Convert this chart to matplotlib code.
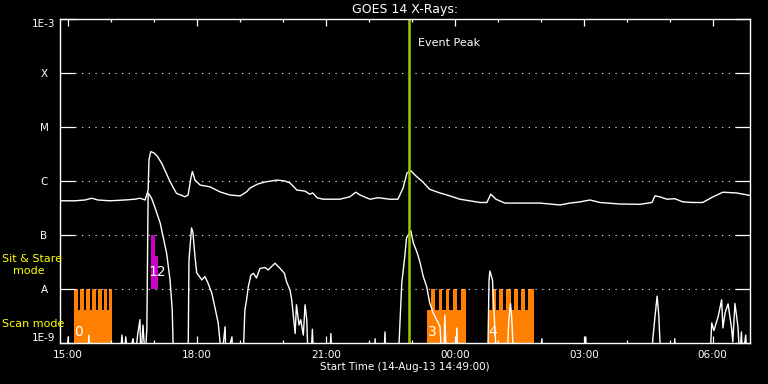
import matplotlib
matplotlib.use("Agg")
import matplotlib.pyplot as plt
import matplotlib.dates as mdates
import matplotlib.ticker as mticker
import pandas as pd

# start of the plot window and event peak (hours after start)
start = pd.Timestamp("2013-08-14 14:49:00")
span_hours = 16.05
peak_hours = 8.12

# GOES long channel (1-8 A), hours after start / flux W m^-2
long_t = [0.00, 0.35, 0.58, 0.74, 0.88, 1.16, 1.51, 1.74, 1.86, 1.98, 2.05, 2.07, 2.11, 2.19,
          2.26, 2.37, 2.47, 2.56, 2.71, 2.81, 2.91, 2.98, 3.05, 3.08, 3.14, 3.26, 3.49, 3.72,
          3.95, 4.19, 4.34, 4.42, 4.60, 4.77, 5.05, 5.23, 5.35, 5.51, 5.70, 5.81, 5.88, 5.98,
          6.12, 6.51, 6.74, 6.88, 6.98, 7.21, 7.40, 7.67, 7.86, 7.98, 8.07, 8.16, 8.28, 8.44,
          8.60, 8.84, 9.07, 9.30, 9.53, 9.77, 9.93, 10.02, 10.14, 10.35, 10.70, 11.16, 11.63,
          11.86, 12.09, 12.33, 12.56, 13.02, 13.49, 13.77, 13.84, 13.95, 14.12, 14.30, 14.49,
          14.72, 14.95, 15.19, 15.42, 15.74, 16.05]
long_flux = [4.3e-7, 4.3e-7, 4.45e-7, 4.8e-7, 4.45e-7, 4.3e-7, 4.45e-7, 4.6e-7, 4.8e-7, 4.45e-7,
             6.8e-7, 2.45e-6, 3.5e-6, 3.3e-6, 2.9e-6, 2.1e-6, 1.4e-6, 9.7e-7, 5.9e-7, 5.5e-7,
             5.1e-7, 5.5e-7, 1.2e-6, 1.5e-6, 1.04e-6, 8.4e-7, 7.8e-7, 6.3e-7, 5.5e-7, 5.3e-7,
             6.3e-7, 7.4e-7, 8.8e-7, 9.6e-7, 1.04e-6, 1.0e-6, 9.2e-7, 6.8e-7, 6.5e-7, 5.7e-7,
             6.0e-7, 4.9e-7, 4.6e-7, 4.6e-7, 5.1e-7, 6.2e-7, 5.5e-7, 4.6e-7, 4.9e-7, 4.6e-7,
             4.6e-7, 7.4e-7, 1.4e-6, 1.55e-6, 1.24e-6, 9.6e-7, 7.0e-7, 6.0e-7, 5.3e-7, 4.6e-7,
             4.3e-7, 4.0e-7, 4.0e-7, 5.7e-7, 4.6e-7, 3.9e-7, 3.9e-7, 3.9e-7, 3.6e-7, 3.9e-7,
             4.1e-7, 4.45e-7, 4.0e-7, 3.75e-7, 3.7e-7, 4.0e-7, 5.3e-7, 5.1e-7, 4.6e-7, 4.7e-7,
             4.1e-7, 4.0e-7, 4.0e-7, 5.1e-7, 6.2e-7, 6.0e-7, 5.4e-7]

# GOES short channel (0.5-4 A); 5e-10 means below the plot floor
short_t = [0.00, 0.16, 0.19, 0.21, 0.65, 0.67, 0.70, 1.40, 1.44, 1.49, 1.53, 1.58, 1.70, 1.74,
           1.81, 1.86, 1.88, 1.93, 1.98, 2.02, 2.05, 2.13, 2.21, 2.33, 2.40, 2.48, 2.56, 2.61,
           2.64, 2.98, 3.00, 3.06, 3.09, 3.14, 3.18, 3.30, 3.37, 3.44, 3.53, 3.60, 3.68, 3.76,
           3.84, 3.86, 4.00, 4.02, 4.26, 4.30, 4.34, 4.38, 4.44, 4.50, 4.57, 4.65, 4.77, 4.84,
           5.00, 5.12, 5.22, 5.27, 5.35, 5.39, 5.47, 5.50, 5.56, 5.60, 5.66, 5.70, 5.74, 5.77,
           5.84, 5.87, 5.90, 6.28, 6.30, 6.33, 7.31, 7.33, 7.35, 7.53, 7.56, 7.58, 7.87, 7.95,
           8.02, 8.06, 8.16, 8.22, 8.30, 8.37, 8.45, 8.53, 8.60, 8.68, 8.76, 8.84, 8.88, 8.93,
           8.95, 8.99, 9.21, 9.23, 9.26, 9.95, 9.98, 10.00, 10.06, 10.12, 10.16, 10.40, 10.44,
           10.48, 10.51, 10.55, 11.19, 11.21, 11.23, 12.21, 12.23, 12.25, 13.76, 13.79, 13.84,
           13.89, 13.93, 13.95, 13.98, 14.28, 14.30, 14.32, 15.12, 15.16, 15.21, 15.31, 15.39,
           15.42, 15.47, 15.54, 15.62, 15.65, 15.70, 15.77, 15.81, 15.85, 15.88, 15.95, 15.98,
           16.05]
short_flux = [5e-10, 5e-10, 1.3e-9, 5e-10, 5e-10, 1.4e-9, 5e-10, 5e-10, 1.4e-9, 5e-10, 1.3e-9,
              5e-10, 1.2e-9, 5e-10, 1.5e-9, 2.7e-9, 5e-10, 2.15e-9, 5e-10, 1.8e-9, 6.0e-7,
              4.8e-7, 3.2e-7, 1.67e-7, 9.2e-8, 4.6e-8, 1.47e-8, 4.1e-9, 5e-10, 5e-10, 3.4e-8,
              1.35e-7, 1.14e-7, 4.0e-8, 2.0e-8, 1.47e-8, 1.7e-8, 1.3e-8, 8.4e-9, 4.7e-9,
              2.35e-9, 5e-10, 2.0e-9, 5e-10, 1.3e-9, 5e-10, 5e-10, 4.1e-9, 6.3e-9, 1.1e-8,
              1.8e-8, 1.95e-8, 1.6e-8, 2.4e-8, 2.5e-8, 2.25e-8, 3.0e-8, 2.4e-8, 1.95e-8,
              1.36e-8, 9.6e-9, 6.3e-9, 1.5e-9, 5.1e-9, 2.15e-9, 2.7e-9, 1.4e-9, 5.1e-9, 2.7e-9,
              5e-10, 5e-10, 1.8e-9, 5e-10, 5e-10, 1.5e-9, 5e-10, 5e-10, 1.2e-9, 5e-10, 5e-10,
              1.6e-9, 5e-10, 5e-10, 1.3e-8, 4.0e-8, 8.8e-8, 1.2e-7, 7.1e-8, 4.9e-8, 3.2e-8,
              1.7e-8, 1.1e-8, 5.5e-9, 3.6e-9, 2.7e-9, 2.0e-9, 5e-10, 5e-10, 3.3e-9, 5e-10,
              5e-10, 1.9e-9, 5e-10, 5e-10, 1.47e-8, 2.15e-8, 1.47e-8, 1.5e-9, 5e-10, 5e-10,
              2.7e-9, 5.4e-9, 2.7e-9, 5e-10, 5e-10, 1.2e-9, 5e-10, 5e-10, 1.3e-9, 5e-10, 5e-10,
              1.2e-9, 3.1e-9, 7.4e-9, 3.1e-9, 1.3e-9, 5e-10, 5e-10, 1.2e-9, 5e-10, 5e-10,
              2.35e-9, 1.7e-9, 3.1e-9, 6.3e-9, 1.9e-9, 3.6e-9, 5.3e-9, 1.9e-9, 1.05e-9, 5.4e-9,
              2.0e-9, 5e-10, 1.6e-9, 5e-10, 1.4e-9, 5e-10, 5e-10]

# IRIS raster blocks: scan-mode base spans and the comb teeth (hours after start)
scan_labels = ["0", "3", "4"]
scan_base = [(0.33, 1.20), (8.54, 9.44), (9.96, 11.02)]
scan_teeth = [
    [(0.33, 0.42), (0.47, 0.56), (0.61, 0.70), (0.74, 0.84), (0.88, 0.98), (1.02, 1.10), (1.13, 1.20)],
    [(8.63, 8.72), (8.81, 8.89), (8.98, 9.06), (9.15, 9.23), (9.32, 9.44)],
    [(10.05, 10.14), (10.21, 10.31), (10.38, 10.48), (10.55, 10.65), (10.72, 10.82), (10.89, 11.02)],
]
scan_base_level = 4.1e-9
scan_top_level = 1e-8
# sit & stare blocks (start, end, top flux)
stare_labels = ["1", "2"]
stare_blocks = [(2.12, 2.22, 1e-7), (2.22, 2.28, 4.1e-8)]

levels = [1e-3, 1e-4, 1e-5, 1e-6, 1e-7, 1e-8, 1e-9]
level_names = ["1E-3", "X", "M", "C", "B", "A", "1E-9"]

W, H = 768, 384
fig = plt.figure(figsize=(W / 100, H / 100), dpi=100, facecolor="black")
ax = fig.add_axes([60 / W, 41 / H, 690 / W, 324 / H], facecolor="black")


def when(h):
    return start + pd.to_timedelta(h, unit="h")


def xnum(h):
    return mdates.date2num(when(h))


# raster blocks
for (b0, b1), teeth in zip(scan_base, scan_teeth):
    ax.bar(xnum(b0), scan_base_level - 1e-9, width=(b1 - b0) / 24, bottom=1e-9,
           align="edge", color="#ff8000", linewidth=0)
    for t0, t1 in teeth:
        ax.bar(xnum(t0), scan_top_level - 1e-9, width=(t1 - t0) / 24, bottom=1e-9,
               align="edge", color="#ff8000", linewidth=0)
for s0, s1, top in stare_blocks:
    ax.bar(xnum(s0), top - 1e-8, width=(s1 - s0) / 24, bottom=1e-8,
           align="edge", color="#cc00cc", linewidth=0)

# dotted level lines
for lv in levels[1:-1]:
    ax.axhline(lv, xmin=15 / 690, xmax=1 - 14 / 690, color="white", lw=0.8,
               linestyle=(0, (1, 5)))

ax.plot(when(long_t), long_flux, color="white", lw=1.0)
ax.plot(when(short_t), short_flux, color="white", lw=1.0)

ax.axvline(when(peak_hours), color="#99cc00", lw=1.8)
ax.annotate("Event Peak", xy=(when(peak_hours), 1), xycoords=("data", "axes fraction"),
            xytext=(9, -19), textcoords="offset pixels", ha="left", va="top",
            color="white", fontsize=8)

# block numbers
for lab, (b0, b1) in zip(scan_labels, scan_base):
    ax.text(when(b0 + 0.11), 1.6e-9, lab, color="white", fontsize=10,
            ha="center", va="center")
# the two sit & stare numbers sit on top of each other, drawn as one run
ax.text(when(stare_blocks[0][0] + 0.15), 2.1e-8, "".join(stare_labels), color="white",
        fontsize=10, ha="center", va="center")

ax.set_yscale("log")
ax.set_ylim(1e-9, 1e-3)
ax.set_xlim(when(0), when(span_hours))
ax.set_yticks(levels)
ax.set_yticklabels(level_names)
ax.yaxis.set_minor_locator(mticker.NullLocator())
for lab, lv in zip(ax.get_yticklabels(), levels):
    lab.set_ha("center")
    if lv == 1e-3:
        lab.set_va("top")
    elif lv == 1e-9:
        lab.set_va("bottom")
ax.tick_params(axis="y", which="major", left=True, right=True, direction="in",
               length=10.8, width=0.9, colors="white", labelsize=7.5, pad=11.5)

ax.xaxis.set_major_locator(mdates.HourLocator(byhour=range(0, 24, 3)))
ax.xaxis.set_minor_locator(mdates.HourLocator())
ax.xaxis.set_major_formatter(mdates.DateFormatter("%H:%M"))
ax.tick_params(axis="x", which="major", top=True, bottom=True, direction="in",
               length=5, width=0.9, colors="white", labelsize=7.5, pad=5)
ax.tick_params(axis="x", which="minor", top=True, bottom=True, direction="in",
               length=2.5, width=0.9, colors="white")
for sp in ax.spines.values():
    sp.set_color("white")
    sp.set_linewidth(1.0)

fig.text(405 / W, 1 - 10 / H, "GOES 14 X-Rays:", color="white", fontsize=9,
         ha="center", va="center")
fig.text(405 / W, 1 - 367 / H, "Start Time (14-Aug-13 14:49:00)", color="white",
         fontsize=7.5, ha="center", va="center")
fig.text(2 / W, 1 - 259 / H, "Sit & Stare", color="#ffff00", fontsize=8,
         ha="left", va="center")
fig.text(13 / W, 1 - 271 / H, "mode", color="#ffff00", fontsize=8,
         ha="left", va="center")
fig.text(2 / W, 1 - 324 / H, "Scan mode", color="#ffff00", fontsize=8,
         ha="left", va="center")

fig.savefig("out.png", dpi=100, facecolor="black")
